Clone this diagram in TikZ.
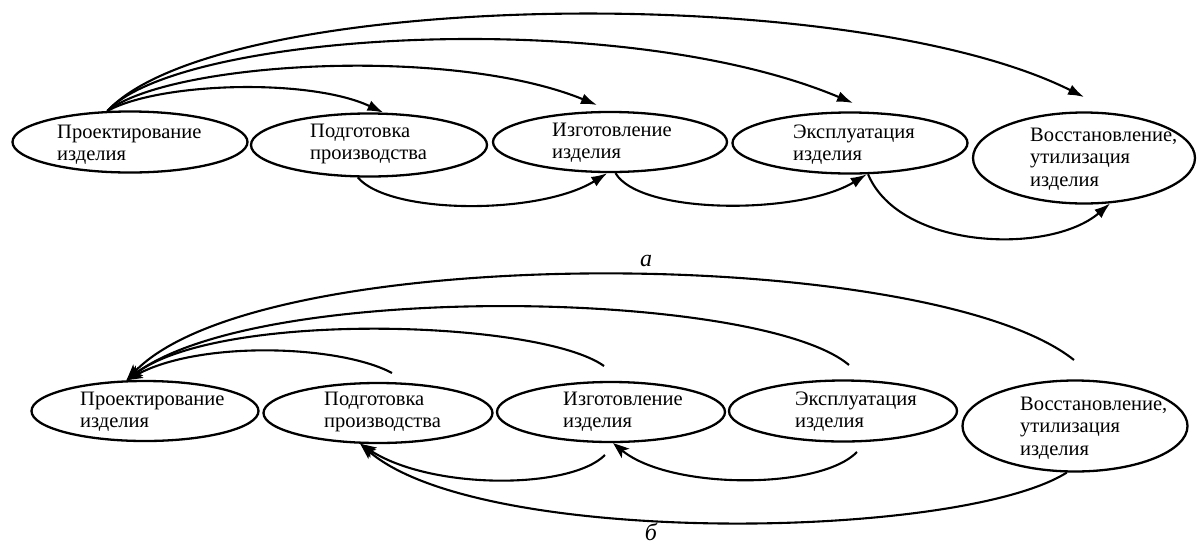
\documentclass[tikz,border=0pt]{standalone}
\usepackage{fontspec}
\setmainfont{Liberation Serif}
\usetikzlibrary{arrows.meta,shapes.geometric}
\begin{document}
\begin{tikzpicture}[x=1pt,y=-1pt,
  ell/.style={draw, ellipse, line width=2.3pt, inner sep=0pt},
  txt/.style={anchor=base west, inner sep=0pt, font=\fontsize{20.5}{22.5}\selectfont},
  conn/.style={line width=2.1pt},
  arr/.style={conn, -{Latex[length=16pt,width=11pt]}},
  arrb/.style={conn, -{Stealth[length=16pt,width=12pt,inset=4pt]}},
  lab/.style={anchor=base, inner sep=0pt, font=\fontsize{24}{26}\selectfont\itshape}]
\useasboundingbox (0,0) rectangle (1197,547);

% ---------- diagram a ----------
\node[ell, minimum width=235pt, minimum height=61pt] (a1) at (130,142) {};
\node[ell, minimum width=236pt, minimum height=63pt] (a2) at (369,145) {};
\node[ell, minimum width=234pt, minimum height=60pt] (a3) at (610,142) {};
\node[ell, minimum width=235pt, minimum height=61pt] (a4) at (850,143) {};
\node[ell, minimum width=222pt, minimum height=91pt] (a5) at (1084,158) {};

\node[txt] (t1) at (57,138) {\vtop{\hbox{Проектирование}\hbox{изделия}}};
\node[txt] (t2) at (310,137) {\vtop{\hbox{Подготовка}\hbox{производства}}};
\node[txt] (t3) at (552,136) {\vtop{\hbox{Изготовление}\hbox{изделия}}};
\node[txt] (t4) at (793,138) {\vtop{\hbox{Эксплуатация}\hbox{изделия}}};
\node[txt] (t5) at (1030,141) {\vtop{\hbox{Восстановление,}\hbox{утилизация}\hbox{изделия}}};

\coordinate (c3) at (597,105);
\coordinate (c4) at (853,103);
\coordinate (c5) at (1084,97);

\draw[arr] (a1.126) .. controls (160,82) and (310,78) .. (a2.66);
\draw[arr] (a1.126) .. controls (170,62) and (450,45) .. (c3);
\draw[arr] (a1.126) .. controls (180,32) and (620,5) .. (c4);
\draw[arr] (a1.126) .. controls (220,-10) and (850,-20) .. (c5);

\draw[arr] (a2.251) .. controls (390,215) and (540,215) .. (a3.265);
\draw[arr] (a3.280) .. controls (640,215) and (800,215) .. (a4.298);
\draw[arr] (a4.300) .. controls (900,250) and (1050,255) .. (a5.300);

\node[lab] (la) at (646,266) {а};

% ---------- diagram b ----------
\node[ell, minimum width=227pt, minimum height=60pt] (b1) at (145,411) {};
\node[ell, minimum width=229pt, minimum height=60pt] (b2) at (378,413) {};
\node[ell, minimum width=228pt, minimum height=60pt] (b3) at (611,412) {};
\node[ell, minimum width=228pt, minimum height=61pt] (b4) at (843,411) {};
\node[ell, minimum width=225pt, minimum height=91pt] (b5) at (1075,426) {};

\node[txt] (u1) at (80,405) {\vtop{\hbox{Проектирование}\hbox{изделия}}};
\node[txt] (u2) at (324,405) {\vtop{\hbox{Подготовка}\hbox{производства}}};
\node[txt] (u3) at (563,405) {\vtop{\hbox{Изготовление}\hbox{изделия}}};
\node[txt] (u4) at (795,405) {\vtop{\hbox{Эксплуатация}\hbox{изделия}}};
\node[txt] (u5) at (1020,410) {\vtop{\hbox{Восстановление,}\hbox{утилизация}\hbox{изделия}}};

\coordinate (s2) at (392,373);
\coordinate (s3) at (604,366);
\coordinate (s4) at (849,365);
\coordinate (s5) at (1074,360);
\coordinate (r3) at (605,455);
\coordinate (r4) at (857,452);

\draw[arrb] (s2) .. controls (340,345) and (200,340) .. (b1.121);
\draw[arrb] (s3) .. controls (540,320) and (220,310) .. (b1.121);
\draw[arrb] (s4) .. controls (760,290) and (260,280) .. (b1.121);
\draw[arrb] (s5) .. controls (930,245) and (260,240) .. (b1.121);

\draw[arrb] (r3) .. controls (570,490) and (430,490) .. (b2.240);
\draw[arrb] (r4) .. controls (820,490) and (670,490) .. (b3.274);
\draw[arrb] (b5.260) .. controls (960,540) and (480,548) .. (b2.240);

\node[lab] (lb) at (651,540) {б};
\end{tikzpicture}
\end{document}
